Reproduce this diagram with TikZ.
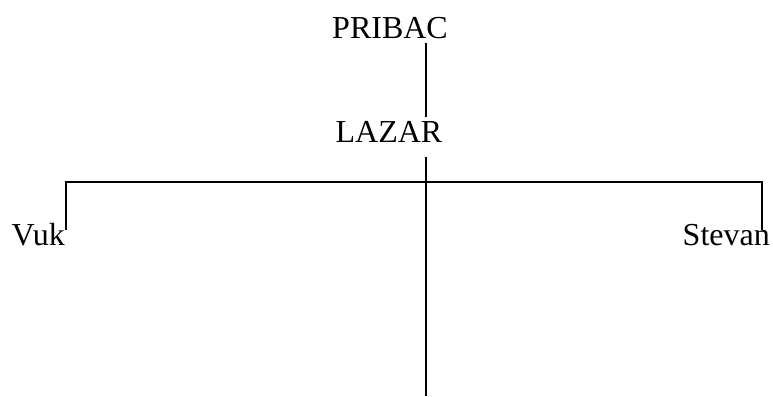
\documentclass[tikz,border=0pt]{standalone}
\usepackage{fontspec}
\setmainfont{Liberation Serif}
\usetikzlibrary{positioning}

\begin{document}
\begin{tikzpicture}[x=1pt, y=-1pt]
        \tikzstyle{person} = [inner sep=4pt, font=\fontsize{32}{38}\selectfont, anchor=base]
        \tikzstyle{link} = [line width=2pt]
        \useasboundingbox (0,0) rectangle (773,396);
        \node (pribac) [person] at (390,38) {PRIBAC};
        \node (lazar) [person] at (389,142) {LAZAR};
        \node (vuk) [person, anchor=base east, inner sep=1pt] at (66,245) {Vuk};
        \node (stevan) [person, anchor=base east, inner sep=1pt] at (771,245) {Stevan};
        \coordinate (trunk) at (426,157);
        \coordinate (bar) at (426,182);
        \coordinate (root) at (426,396);
        \coordinate (vukdrop) at (66,230);
        \coordinate (stevandrop) at (762,230);
        \draw[link] (pribac.south -| trunk)--(lazar.north -| trunk);
        \draw[link] (trunk)--(root);
        \draw[link] (vukdrop)|-(bar)-|(stevandrop);
    \end{tikzpicture}
\end{document}
